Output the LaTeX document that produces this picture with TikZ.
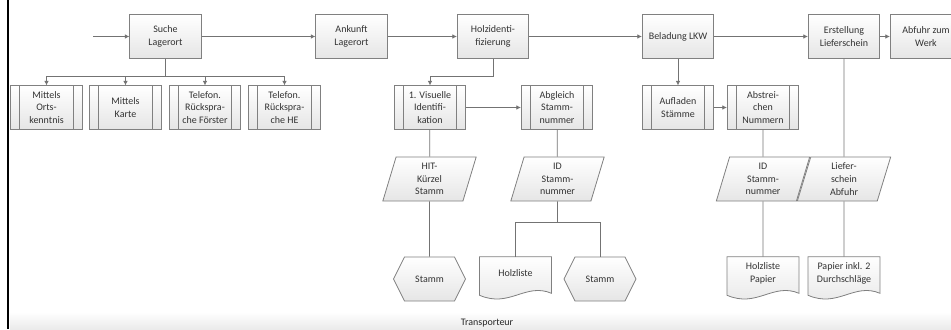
\documentclass[tikz,border=0pt]{standalone}
\usepackage{fontspec}
\setmainfont{Carlito}
\usetikzlibrary{arrows.meta,shapes.geometric,shapes.symbols,calc,backgrounds}

\tikzset{
  shapeline/.style={draw=black!50, line width=0.6pt},
  boxtext/.style={align=center, font=\fontsize{7.5}{9.5}\selectfont, text=black!80},
  proc/.style={shapeline, boxtext, top color=white, bottom color=black!10,
    minimum width=53.5pt, minimum height=32.5pt, inner sep=1pt},
  subproc/.style={proc, path picture={
      \draw[black!50, line width=0.6pt]
        ([xshift=6.75pt]path picture bounding box.north west) -- ([xshift=6.75pt]path picture bounding box.south west)
        ([xshift=-6.75pt]path picture bounding box.north east) -- ([xshift=-6.75pt]path picture bounding box.south east);}},
  datain/.style={proc, trapezium, trapezium left angle=69, trapezium right angle=111,
    trapezium stretches body, minimum width=70pt, minimum height=33pt},
  term/.style={proc, signal, signal to=west and east, signal pointer angle=127,
    minimum width=54pt, minimum height=33pt},
  docu/.style={boxtext, minimum width=53.5pt, minimum height=24.75pt, inner sep=1pt},
  link/.style={draw=black!55, line width=0.6pt},
  flow/.style={link, -{Latex[length=3.5pt,width=3.5pt]}},
}

% outline of a document shape, wavy bottom edge
\newcommand{\docpath}[1]{%
  \begin{pgfonlayer}{background}
  \draw[shapeline, top color=white, bottom color=black!10]
    (#1.north west) -- (#1.north east) -- ($(#1.south east)+(0,3)$)
    .. controls ($(#1.south east)+(-26,-8)$) and ($(#1.south west)+(30,18)$)
    .. ($(#1.south west)+(0,5)$) -- cycle;
  \end{pgfonlayer}}

\begin{document}
\begin{tikzpicture}[x=0.75pt,y=-0.75pt]
\path[use as bounding box, clip] (0,0) rectangle (951,329);

% lane
\shade[top color=white, bottom color=black!8] (10,312) rectangle (951,329);
\node[font=\fontsize{7.5}{9}\selectfont, text=black!85] (lane) at (487,323) {Transporteur};
\draw[line width=2.2pt] (8,0) -- (8,329);

% main process
\coordinate (start) at (93,36.5);
\node[proc] (suche) at (165.5,36.5) {Suche\\Lagerort};
\node[proc] (ankunft) at (351.5,36.5) {Ankunft\\Lagerort};
\node[proc] (holz) at (493,36.5) {Holzidenti-\\fizierung};
\node[proc] (beladung) at (678,36.5) {Beladung LKW};
\node[proc] (erstellung) at (844,36.5) {Erstellung\\Lieferschein};
\node[proc] (abfuhr) at (926,36.5) {Abfuhr zum\\Werk};

\draw[flow] (start) -- (suche);
\draw[flow] (suche) -- (ankunft);
\draw[flow] (ankunft) -- (holz);
\draw[flow] (holz) -- (beladung);
\draw[flow] (beladung) -- (erstellung);
\draw[flow] (erstellung) -- (abfuhr);

% sub processes
\node[subproc] (ort) at (46.5,107.5) {Mittels\\Orts-\\kenntnis};
\node[subproc] (karte) at (125.5,107.5) {Mittels\\Karte};
\node[subproc] (telfoe) at (205,107.5) {Telefon.\\Rückspra-\\che Förster};
\node[subproc] (telhe) at (284.5,107.5) {Telefon.\\Rückspra-\\che HE};
\node[subproc] (visuell) at (430,107.5) {1. Visuelle\\Identifi-\\kation};
\node[subproc] (abgleich) at (557,107.5) {Abgleich\\Stamm-\\nummer};
\node[subproc] (aufladen) at (678,107.5) {Aufladen\\Stämme};
\node[subproc] (abstreich) at (763,107.5) {Abstrei-\\chen\\Nummern};

\coordinate (verteil) at (165.5,76);
\draw[link] (suche) -- (verteil);
\foreach \n in {ort,karte,telfoe,telhe}
  \draw[flow] (verteil) -| (\n.north);
\draw[flow] (holz.south) |- (430,76) -- (visuell.north);
\draw[flow] (visuell) -- (abgleich);
\draw[flow] (beladung) -- (aufladen);
\draw[flow] (aufladen) -- (abstreich);

% data
\node[datain] (hit) at (429.5,179) {HIT-\\Kürzel\\Stamm};
\node[datain] (idA) at (557.5,179) {ID\\Stamm-\\nummer};
\node[datain] (idB) at (763,179) {ID\\Stamm-\\nummer};
\node[datain] (liefer) at (844,179) {Liefer-\\schein\\Abfuhr};

\draw[link] (visuell) -- (hit);
\draw[link] (abgleich) -- (idA);
\draw[link] (abstreich) -- (idB);
\draw[link] (erstellung) -- (liefer);

% results
\node[term] (stammA) at (429.5,279) {Stamm};
\node[docu] (holzliste) at (515.5,273.5) {Holzliste};
\node[term] (stammB) at (600,279) {Stamm};
\node[docu] (papier) at (763,273.5) {Holzliste\\Papier};
\node[docu] (durchschl) at (844,273.5) {Papier inkl. 2\\Durchschläge};
\docpath{holzliste}
\docpath{papier}
\docpath{durchschl}

\draw[link] (hit) -- (stammA);
\coordinate (idAfork) at (557.5,222);
\draw[link] (idA) -- (idAfork);
\draw[link] (idAfork) -| (holzliste.north);
\draw[link] (idAfork) -| (stammB.north);
\draw[link] (idB) -- (papier);
\draw[link] (liefer) -- (durchschl);
\end{tikzpicture}
\end{document}
